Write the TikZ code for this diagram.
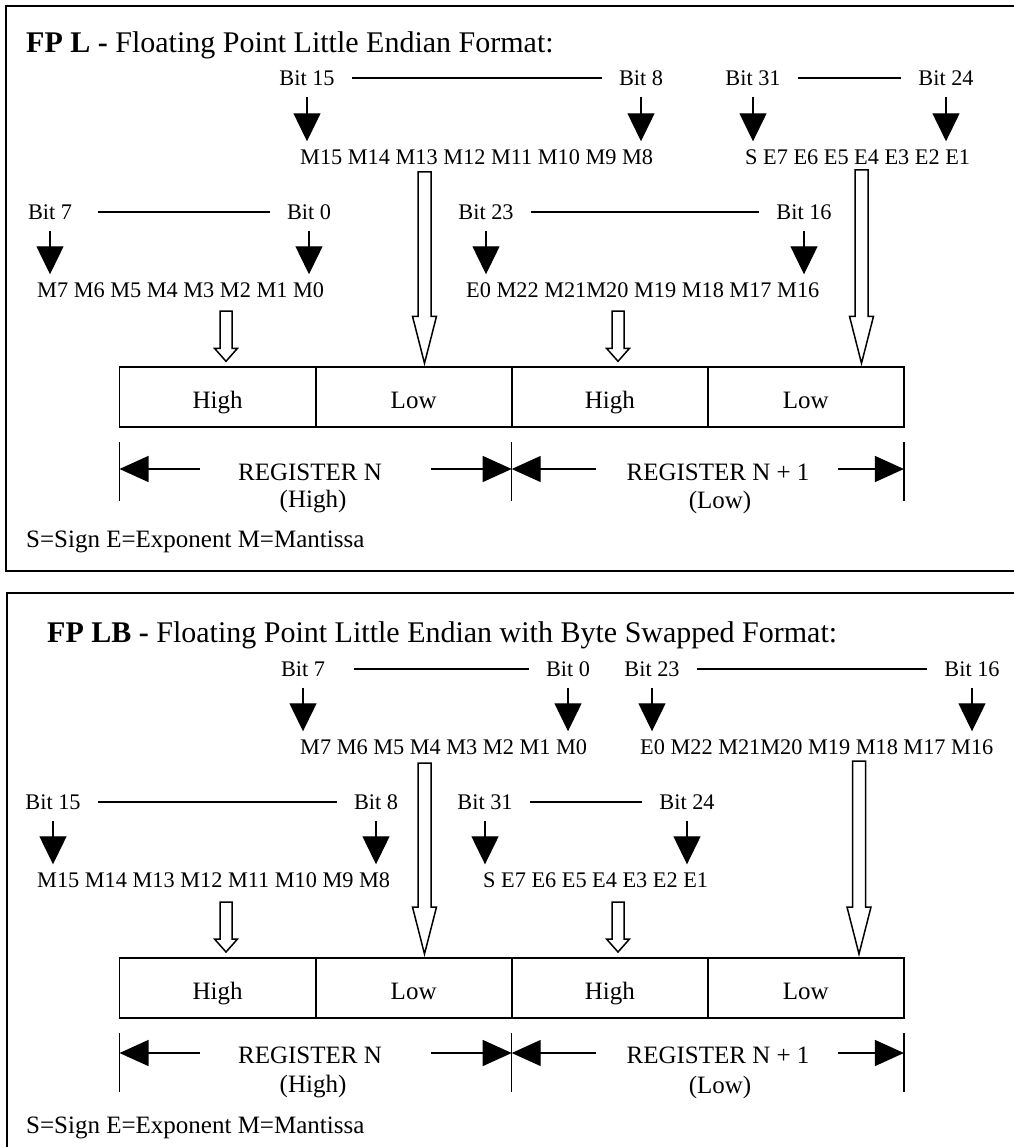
\documentclass[tikz,border=0pt]{standalone}
\usepackage{fontspec}
\setmainfont{Liberation Serif}
\usetikzlibrary{arrows.meta,positioning,calc}
% hollow block arrow: top coordinate, tip coordinate, stem half width, head half width, head length
\newcommand{\openarrow}[5]{%
  \draw[openarr] ($(#1)+(-#3,0)$) -- ($(#2)+(-#3,#5)$) -- ($(#2)+(-#4,#5)$) -- (#2)
    -- ($(#2)+(#4,#5)$) -- ($(#2)+(#3,#5)$) -- ($(#1)+(#3,0)$) -- cycle;}

\begin{document}
\begin{tikzpicture}[x=1pt, y=1pt,
  heading/.style={font=\fontsize{30}{34}\selectfont, anchor=base west, inner sep=0pt},
  bitlbl/.style={font=\fontsize{22.3}{26}\selectfont, inner sep=0pt},
  bitrow/.style={font=\fontsize{22.3}{26}\selectfont, anchor=west, inner sep=0pt},
  spanline/.style={line width=1.3pt, shorten <=17pt, shorten >=17pt},
  bitarrow/.style={-{Triangle[width=27pt,length=28pt]}, line width=1.3pt,
                   shorten <=11pt, shorten >=8pt},
  openarr/.style={line width=1.5pt, fill=white},
  regcell/.style={draw, line width=1.8pt, minimum width=196.1pt, minimum height=60pt,
                  inner sep=0pt, outer sep=0pt, font=\fontsize{25}{30}\selectfont,
                  text height=27pt, text depth=5pt},
  reglbl/.style={font=\fontsize{25}{30}\selectfont, inner sep=0pt},
  regtick/.style={line width=1.3pt},
  dimarrow/.style={-{Triangle[width=26pt,length=29pt]}, line width=1.3pt},
  panelframe/.style={line width=2pt},
  keytext/.style={font=\fontsize{25}{30}\selectfont, anchor=west, inner sep=0pt}
]
\useasboundingbox (0,0) rectangle (1013,-1147);

% ---------------- Panel 1: FP L ----------------
\draw[panelframe] (1020,-6) -- (6,-6) -- (6,-571) -- (1020,-571);
\node[heading] (head1) at (26,-53) {\textbf{FP L -} Floating Point Little Endian Format:};

% upper bytes
\node[bitlbl] (p1b15) at (307,-78) {Bit 15};
\node[bitlbl] (p1b8) at (641,-78) {Bit 8};
\node[bitlbl] (p1b31) at (753,-78) {Bit 31};
\node[bitlbl] (p1b24) at (946,-78) {Bit 24};
\node[bitrow] (p1m15) at (300,-157) {M15 M14 M13 M12 M11 M10 M9 M8};
\node[bitrow] (p1s) at (745,-157) {S E7 E6 E5 E4 E3 E2 E1};

% lower bytes
\node[bitlbl] (p1b7) at (50,-212) {Bit 7};
\node[bitlbl] (p1b0) at (309,-212) {Bit 0};
\node[bitlbl] (p1b23) at (486,-212) {Bit 23};
\node[bitlbl] (p1b16) at (804,-212) {Bit 16};
\node[bitrow] (p1m7) at (37,-290) {M7 M6 M5 M4 M3 M2 M1 M0};
\node[bitrow] (p1e0) at (466,-290) {E0 M22 M21M20 M19 M18 M17 M16};

\draw[spanline] (p1b15) -- (p1b8);
\draw[spanline] (p1b31) -- (p1b24);
\draw[spanline, shorten <=26pt] (p1b7) -- (p1b0);
\draw[spanline] (p1b23) -- (p1b16);

\draw[bitarrow] (p1b15) -- (p1b15 |- p1m15.north);
\draw[bitarrow] (p1b8) -- (p1b8 |- p1m15.north);
\draw[bitarrow] (p1b31) -- (p1b31 |- p1s.north);
\draw[bitarrow] (p1b24) -- (p1b24 |- p1s.north);
\draw[bitarrow] (p1b7) -- (p1b7 |- p1m7.north);
\draw[bitarrow] (p1b0) -- (p1b0 |- p1m7.north);
\draw[bitarrow] (p1b23) -- (p1b23 |- p1e0.north);
\draw[bitarrow] (p1b16) -- (p1b16 |- p1e0.north);

% registers
\node[regcell] (p1hi1) at (217.55,-397.3) {High};
\node[regcell, right=0pt of p1hi1] (p1lo1) {Low};
\node[regcell, right=0pt of p1lo1] (p1hi2) {High};
\node[regcell, right=0pt of p1hi2] (p1lo2) {Low};

\coordinate (p1bigA) at (424.5,-172);
\coordinate (p1bigAtip) at ([yshift=4pt]p1lo1.north -| p1bigA);
\coordinate (p1bigB) at (861.5,-170);
\coordinate (p1bigBtip) at ([yshift=4pt]p1lo2.north -| p1bigB);
\coordinate (p1smA) at (226,-311);
\coordinate (p1smAtip) at ([yshift=6pt]p1hi1.north -| p1smA);
\coordinate (p1smB) at (618,-311);
\coordinate (p1smBtip) at ([yshift=6pt]p1hi2.north -| p1smB);
\openarrow{p1bigA}{p1bigAtip}{6.5}{12}{47}
\openarrow{p1bigB}{p1bigBtip}{6.5}{12}{47}
\openarrow{p1smA}{p1smAtip}{6}{11.5}{13}
\openarrow{p1smB}{p1smBtip}{6}{11.5}{13}

\coordinate (p1t1) at ([yshift=-15pt]p1hi1.south west);
\coordinate (p1t2) at ([yshift=-15pt]p1hi2.south west);
\coordinate (p1t3) at ([yshift=-15pt]p1lo2.south east);
\draw[regtick] (p1t1) -- ++(0,-59);
\draw[regtick] (p1t2) -- ++(0,-59);
\draw[regtick] (p1t3) -- ++(0,-59);

\node[reglbl] (p1regA) at (310,-472) {REGISTER N};
\node[reglbl] (p1subA) at (313,-502) {(High)};
\node[reglbl] (p1regB) at (718,-472) {REGISTER N + 1};
\node[reglbl] (p1subB) at (720,-502) {(Low)};

\draw[dimarrow, shorten <=38pt] ([yshift=3pt]p1regA.west) -- ([yshift=3pt]p1regA.west -| p1t1);
\draw[dimarrow, shorten <=49pt] ([yshift=3pt]p1regA.east) -- ([yshift=3pt]p1regA.east -| p1t2);
\draw[dimarrow, shorten <=30pt] ([yshift=3pt]p1regB.west) -- ([yshift=3pt]p1regB.west -| p1t2);
\draw[dimarrow, shorten <=28pt] ([yshift=3pt]p1regB.east) -- ([yshift=3pt]p1regB.east -| p1t3);

\node[keytext] (p1key) at (26,-542) {S=Sign E=Exponent M=Mantissa};

% ---------------- Panel 2: FP LB ----------------
\draw[panelframe] (1020,-593) -- (7,-593) -- (7,-1150);
\node[heading] (head2) at (47,-642) {\textbf{FP LB -} Floating Point Little Endian with Byte Swapped Format:};

% upper bytes
\node[bitlbl] (p2b7) at (303,-669) {Bit 7};
\node[bitlbl] (p2b0) at (568,-669) {Bit 0};
\node[bitlbl] (p2b23) at (652,-669) {Bit 23};
\node[bitlbl] (p2b16) at (972,-669) {Bit 16};
\node[bitrow] (p2m7) at (300,-747) {M7 M6 M5 M4 M3 M2 M1 M0};
\node[bitrow] (p2e0) at (640,-747) {E0 M22 M21M20 M19 M18 M17 M16};

% lower bytes
\node[bitlbl] (p2b15) at (53,-802) {Bit 15};
\node[bitlbl] (p2b8) at (376,-802) {Bit 8};
\node[bitlbl] (p2b31) at (485,-802) {Bit 31};
\node[bitlbl] (p2b24) at (687,-802) {Bit 24};
\node[bitrow] (p2m15) at (37,-880) {M15 M14 M13 M12 M11 M10 M9 M8};
\node[bitrow] (p2s) at (483,-880) {S E7 E6 E5 E4 E3 E2 E1};

\draw[spanline, shorten <=29pt] (p2b7) -- (p2b0);
\draw[spanline] (p2b23) -- (p2b16);
\draw[spanline] (p2b15) -- (p2b8);
\draw[spanline] (p2b31) -- (p2b24);

\draw[bitarrow] (p2b7) -- (p2b7 |- p2m7.north);
\draw[bitarrow] (p2b0) -- (p2b0 |- p2m7.north);
\draw[bitarrow] (p2b23) -- (p2b23 |- p2e0.north);
\draw[bitarrow] (p2b16) -- (p2b16 |- p2e0.north);
\draw[bitarrow] (p2b15) -- (p2b15 |- p2m15.north);
\draw[bitarrow] (p2b8) -- (p2b8 |- p2m15.north);
\draw[bitarrow] (p2b31) -- (p2b31 |- p2s.north);
\draw[bitarrow] (p2b24) -- (p2b24 |- p2s.north);

% registers
\node[regcell] (p2hi1) at (217.55,-988) {High};
\node[regcell, right=0pt of p2hi1] (p2lo1) {Low};
\node[regcell, right=0pt of p2lo1] (p2hi2) {High};
\node[regcell, right=0pt of p2hi2] (p2lo2) {Low};

\coordinate (p2bigA) at (424.5,-763);
\coordinate (p2bigAtip) at ([yshift=4pt]p2lo1.north -| p2bigA);
\coordinate (p2bigB) at (859,-761);
\coordinate (p2bigBtip) at ([yshift=4pt]p2lo2.north -| p2bigB);
\coordinate (p2smA) at (226,-902);
\coordinate (p2smAtip) at ([yshift=6pt]p2hi1.north -| p2smA);
\coordinate (p2smB) at (618,-902);
\coordinate (p2smBtip) at ([yshift=6pt]p2hi2.north -| p2smB);
\openarrow{p2bigA}{p2bigAtip}{6.5}{12}{47}
\openarrow{p2bigB}{p2bigBtip}{6.5}{12}{47}
\openarrow{p2smA}{p2smAtip}{6}{11.5}{13}
\openarrow{p2smB}{p2smBtip}{6}{11.5}{13}

\coordinate (p2t1) at ([yshift=-15pt]p2hi1.south west);
\coordinate (p2t2) at ([yshift=-15pt]p2hi2.south west);
\coordinate (p2t3) at ([yshift=-15pt]p2lo2.south east);
\draw[regtick] (p2t1) -- ++(0,-59);
\draw[regtick] (p2t2) -- ++(0,-59);
\draw[regtick] (p2t3) -- ++(0,-59);

\node[reglbl] (p2regA) at (310,-1055) {REGISTER N};
\node[reglbl] (p2subA) at (313,-1087) {(High)};
\node[reglbl] (p2regB) at (718,-1055) {REGISTER N + 1};
\node[reglbl] (p2subB) at (720,-1087) {(Low)};

\draw[dimarrow, shorten <=38pt] ([yshift=2pt]p2regA.west) -- ([yshift=2pt]p2regA.west -| p2t1);
\draw[dimarrow, shorten <=49pt] ([yshift=2pt]p2regA.east) -- ([yshift=2pt]p2regA.east -| p2t2);
\draw[dimarrow, shorten <=30pt] ([yshift=2pt]p2regB.west) -- ([yshift=2pt]p2regB.west -| p2t2);
\draw[dimarrow, shorten <=28pt] ([yshift=2pt]p2regB.east) -- ([yshift=2pt]p2regB.east -| p2t3);

\node[keytext] (p2key) at (26,-1128) {S=Sign E=Exponent M=Mantissa};

\end{tikzpicture}
\end{document}
